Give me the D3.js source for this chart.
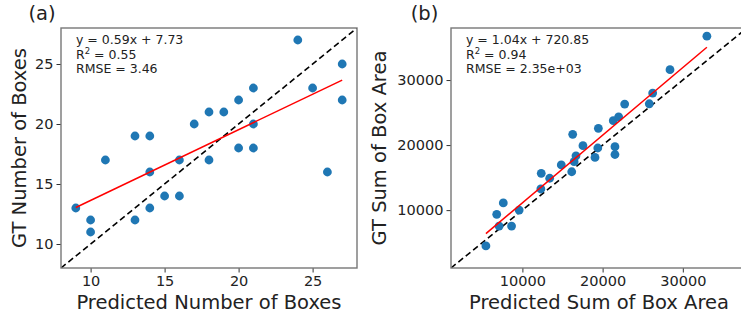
<!DOCTYPE html>
<html>
<head>
<meta charset="utf-8">
<script src="https://cdn.jsdelivr.net/npm/d3@7"></script>
<style>
  html, body { margin: 0; padding: 0; background: #fff; }
  svg { display: block; font-family: "DejaVu Sans", sans-serif; }
</style>
</head>
<body>
<svg id="chart" width="741" height="320"></svg>
<script>
// Panel (a): predicted vs ground-truth box counts
const countPred = [9, 10, 10, 11, 13, 13, 14, 14, 14, 15, 16, 16, 17, 18, 18, 19, 20, 20, 21, 21, 21, 24, 25, 26, 27, 27];
const countGT   = [13, 12, 11, 17, 19, 12, 19, 16, 13, 14, 17, 14, 20, 21, 17, 21, 22, 18, 23, 20, 18, 27, 23, 16, 25, 22];
const countFit  = { slope: 0.59, intercept: 7.73 };
const countStats = ["y = 0.59x + 7.73", "R\u00B2 = 0.55", "RMSE = 3.46"];
const countTicks = [10, 15, 20, 25];

// Panel (b): predicted vs ground-truth summed box area
const areaPred = [5450, 6800, 7100, 7620, 8650, 9600, 12300, 12350, 13400, 14850, 16150, 16270, 16450, 16680, 17550,
                  19050, 19400, 19470, 21540, 21540, 21330, 22000, 22750, 25820, 26240, 28400, 33000];
const areaGT   = [4500, 9350, 7550, 11100, 7550, 10000, 13250, 15650, 14900, 16950, 15900, 21650, 17450, 18350, 19900,
                  18100, 19550, 22580, 19750, 18550, 23750, 24350, 26300, 26350, 28000, 31600, 36750];
const areaFit  = { slope: 1.04, intercept: 720.85 };
const areaStats = ["y = 1.04x + 720.85", "R\u00B2 = 0.94", "RMSE = 2.35e+03"];
const areaTicks = [10000, 20000, 30000];

const svg = d3.select("#chart");

function panel(opts) {
  const { left, right, top, bottom, domain, xs, ys, fit, stats, ticks, xLabel, yLabel, tag, tagX, yLabelX } = opts;
  const x = d3.scaleLinear().domain(domain).range([left, right]);
  const y = d3.scaleLinear().domain(domain).range([bottom, top]);
  const g = svg.append("g");
  const fmt = d3.format("d");

  const clipId = "clip-" + tag.replace(/[^a-z]/g, "");
  svg.append("clipPath").attr("id", clipId)
    .append("rect").attr("x", left).attr("y", top).attr("width", right - left).attr("height", bottom - top);
  const plot = g.append("g").attr("clip-path", `url(#${clipId})`);

  // identity line
  plot.append("line")
    .attr("x1", x(domain[0])).attr("y1", y(domain[0]))
    .attr("x2", x(domain[1])).attr("y2", y(domain[1]))
    .attr("stroke", "#000").attr("stroke-width", 1.6).attr("stroke-dasharray", "6,3.5");

  // points
  plot.selectAll("circle").data(xs.map((v, i) => [v, ys[i]])).join("circle")
    .attr("cx", d => x(d[0])).attr("cy", d => y(d[1])).attr("r", 4.4)
    .attr("fill", "#1f77b4");

  // regression line over the predicted range
  const [x0, x1] = d3.extent(xs);
  plot.append("line")
    .attr("x1", x(x0)).attr("y1", y(fit.slope * x0 + fit.intercept))
    .attr("x2", x(x1)).attr("y2", y(fit.slope * x1 + fit.intercept))
    .attr("stroke", "red").attr("stroke-width", 1.5);

  // axes
  const xAxis = g.append("g").attr("transform", `translate(0,${bottom})`)
    .call(d3.axisBottom(x).tickValues(ticks).tickFormat(fmt).tickSize(4.5).tickPadding(3).tickSizeOuter(0));
  const yAxis = g.append("g").attr("transform", `translate(${left},0)`)
    .call(d3.axisLeft(y).tickValues(ticks).tickFormat(fmt).tickSize(4.5).tickPadding(3).tickSizeOuter(0));
  [xAxis, yAxis].forEach(a => {
    a.select(".domain").remove();
    a.selectAll(".tick line").attr("stroke", "#333").attr("stroke-width", 1);
    a.selectAll(".tick text").attr("font-size", 14.5).attr("fill", "#222")
      .attr("font-family", "DejaVu Sans, sans-serif");
  });

  // frame
  g.append("rect").attr("x", left).attr("y", top).attr("width", right - left).attr("height", bottom - top)
    .attr("fill", "none").attr("stroke", "#777").attr("stroke-width", 1.4);

  // stats box text
  const t = g.append("text").attr("x", left + 15).attr("y", top + 16)
    .attr("font-size", 12.5).attr("fill", "#222");
  stats.forEach((s, i) => {
    const span = t.append("tspan").attr("x", left + 15).attr("dy", i === 0 ? 0 : 14.6);
    if (s.includes("\u00B2")) {
      span.text("R");
      span.append("tspan").attr("font-size", 8.5).attr("dy", -5).text("2");
      span.append("tspan").attr("dy", 5).text(s.slice(2));
    } else {
      span.text(s);
    }
  });

  // axis titles
  g.append("text").attr("x", (left + right) / 2).attr("y", 309)
    .attr("text-anchor", "middle").attr("font-size", 19.5).attr("fill", "#222").text(xLabel);
  g.append("text").attr("transform", `translate(${yLabelX},${(top + bottom) / 2}) rotate(-90)`)
    .attr("text-anchor", "middle").attr("font-size", 19.5).attr("fill", "#222").text(yLabel);

  // panel tag
  g.append("text").attr("x", tagX).attr("y", 20).attr("text-anchor", "middle")
    .attr("font-size", 19.5).attr("fill", "#222").text(tag);
}

panel({
  left: 61, right: 357, top: 28, bottom: 268, domain: [8, 28],
  xs: countPred, ys: countGT, fit: countFit, stats: countStats, ticks: countTicks,
  xLabel: "Predicted Number of Boxes", yLabel: "GT Number of Boxes", tag: "(a)", tagX: 42, yLabelX: 25.5
});

panel({
  left: 451, right: 747, top: 28, bottom: 268, domain: [1100, 38000],
  xs: areaPred, ys: areaGT, fit: areaFit, stats: areaStats, ticks: areaTicks,
  xLabel: "Predicted Sum of Box Area", yLabel: "GT Sum of Box Area", tag: "(b)", tagX: 424.5, yLabelX: 385.5
});
</script>
</body>
</html>
